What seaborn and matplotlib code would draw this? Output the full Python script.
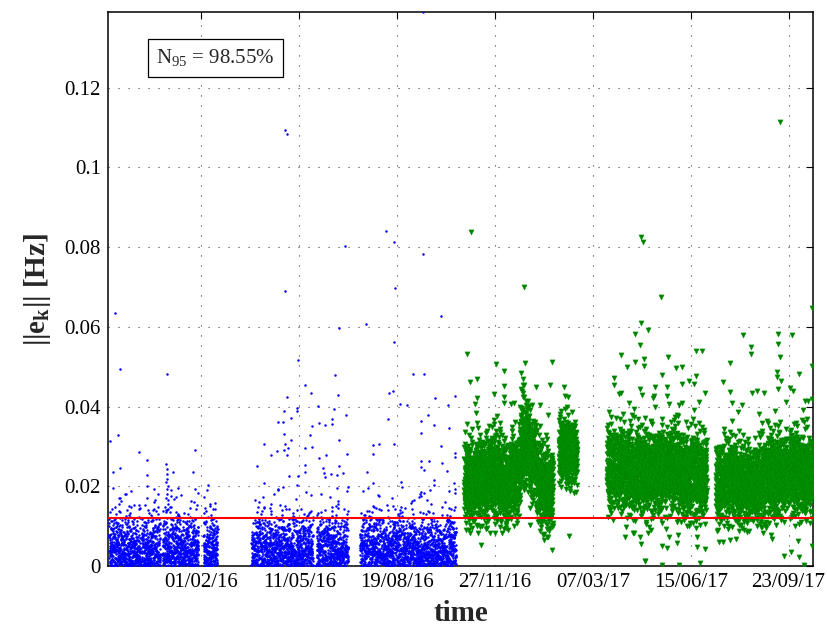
import numpy as np
import pandas as pd
import seaborn as sns
import matplotlib
matplotlib.use("Agg")
import matplotlib.pyplot as plt
import matplotlib.dates as mdates
from matplotlib.ticker import FuncFormatter

# ---------------------------------------------------------------------------
# Data (times are given in days relative to 2016-02-01)
# ---------------------------------------------------------------------------
day0 = pd.Timestamp("2016-02-01")
blue_per_day = 16
green_per_day = 20

# training period (blue): recording blocks
blue_seg_start = [-94.5, -61.5, -40.0, 2.0, 51.0, 117.5, 162.0]
blue_seg_end = [-62.5, -42.0, -3.0, 16.5, 114.0, 150.0, 260.2]
# cumulative share of samples below each error level inside a block
blue_level = [0.0, 0.002, 0.004, 0.006, 0.008, 0.010, 0.012, 0.015, 0.020]
blue_cum = [0.0, 0.23, 0.46, 0.655, 0.80, 0.90, 0.96, 0.988, 1.0]

# test period (green): recording blocks with typical level and spread
green_seg_start = [268.4, 280.0, 295.0, 305.0, 317.0, 325.0, 335.0, 342.0, 350.0,
                   365.3, 414.3, 440.0, 465.0, 490.0, 525.5, 550.0, 575.0, 600.0]
green_seg_end = [280.0, 295.0, 305.0, 317.0, 325.0, 335.0, 342.0, 350.0, 359.2,
                 383.7, 440.0, 465.0, 490.0, 516.3, 550.0, 575.0, 600.0, 624.5]
green_seg_center = [0.0210, 0.0220, 0.0230, 0.0210, 0.0225, 0.0300, 0.0270, 0.0210, 0.0190,
                    0.0285, 0.0245, 0.0235, 0.0240, 0.0225, 0.0210, 0.0205, 0.0225, 0.0230]
green_seg_scale = [1.0, 1.0, 1.05, 1.0, 1.0, 1.1, 1.0, 1.05, 1.0,
                   0.8, 1.0, 1.0, 1.0, 1.0, 0.95, 0.95, 1.0, 1.0]
green_offset = [-0.013, -0.010, -0.0065, -0.0035, 0.0, 0.0035, 0.0065, 0.0095, 0.014, 0.022]
green_cum = [0.0, 0.02, 0.09, 0.27, 0.50, 0.73, 0.895, 0.968, 0.993, 1.0]

# isolated training samples
blue_out_day = [
    -88.8, -83.7, -34.7, -93.2, -85.0, -64.3, -55.8, -90.1, -83.0, -36.4,
    -35.0, -28.9, -6.1, -8.5, -55.8, -35.7, -6.8, 7.1, -55.8, -35.0,
    -78.3, -83.4, -55.8, -48.3, -26.2, -20.4, -10.9, -91.5, -74.5, -69.4,
    -64.3, -54.8, -34.0, -31.3, -24.2, 8.5, 14.3, 11.5, -35.4, -36.0,
    -34.6, -35.7, -36.2, -34.3, -35.2, -36.5,
    85.7, 99.0, 140.5, 105.4, 112.2, 136.0, 139.8, 87.8, 119.1, 98.0,
    84.4, 97.7, 135.0, 147.7, 91.5, 77.9, 83.7, 133.7, 112.6, 119.7,
    125.8, 133.0, 85.0, 87.0, 146.6, 84.0, 64.0, 77.6, 85.0, 88.1,
    84.7, 87.8, 91.8, 70.7, 56.8, 110.9, 106.1, 112.6, 126.8, 119.7,
    140.8, 149.0, 105.4, 123.8, 140.8, 106.1, 125.5, 132.7, 138.1, 144.2,
    126.2, 89.8, 98.7, 63.6, 98.0, 149.7,
    188.8, 196.6, 226.8, 197.7, 244.9, 196.6, 216.6, 227.6, 191.8, 195.9,
    238.8, 259.5, 203.1, 209.9, 251.7, 167.7, 226.8, 191.1, 175.2, 181.6,
    175.2, 168.7, 175.8, 196.6, 224.5, 231.9, 238.1, 252.8, 224.5, 245.2,
    259.5, 259.5, 224.5, 233.0, 245.6, 224.5, 227.2, 251.0, 238.1, 237.4,
    203.8, 258.2, 252.8, 259.5, 224.5, 217.7,
]
blue_out_val = [
    0.0634, 0.0494, 0.0482, 0.0314, 0.0329, 0.0287, 0.0265, 0.0236, 0.0246, 0.0255,
    0.0244, 0.0237, 0.0290, 0.0237, 0.0228, 0.0219, 0.0194, 0.0203, 0.0200, 0.0192,
    0.0181, 0.0170, 0.0171, 0.0160, 0.0173, 0.0178, 0.0163, 0.0144, 0.0151, 0.0152,
    0.0153, 0.0140, 0.0165, 0.0148, 0.0129, 0.0151, 0.0157, 0.0144, 0.0230, 0.0210,
    0.0200, 0.0180, 0.0170, 0.0155, 0.0140, 0.0135,
    0.0689, 0.0516, 0.0596, 0.0455, 0.0434, 0.0479, 0.0430, 0.0424, 0.0402, 0.0397,
    0.0388, 0.0388, 0.0394, 0.0378, 0.0372, 0.0362, 0.0361, 0.0369, 0.0351, 0.0358,
    0.0355, 0.0356, 0.1095, 0.1083, 0.0802, 0.0332, 0.0305, 0.0288, 0.0307, 0.0296,
    0.0290, 0.0278, 0.0316, 0.0278, 0.0250, 0.0328, 0.0296, 0.0298, 0.0279, 0.0272,
    0.0316, 0.0282, 0.0253, 0.0246, 0.0251, 0.0236, 0.0233, 0.0232, 0.0229, 0.0233,
    0.0223, 0.0225, 0.0225, 0.0208, 0.0203, 0.0198,
    0.0841, 0.0812, 0.0783, 0.0697, 0.0627, 0.0561, 0.0481, 0.0481, 0.0434, 0.0439,
    0.0422, 0.0426, 0.0406, 0.0405, 0.0405, 0.0607, 0.1390, 0.0369, 0.0303, 0.0306,
    0.0281, 0.0235, 0.0207, 0.0305, 0.0364, 0.0380, 0.0355, 0.0345, 0.0333, 0.0300,
    0.0283, 0.0273, 0.0264, 0.0264, 0.0258, 0.0248, 0.0241, 0.0239, 0.0215, 0.0203,
    0.0210, 0.0207, 0.0188, 0.0182, 0.0175, 0.0166,
]

# isolated test samples
green_out_day = [
    275.8, 329.6, 449.7, 451.7, 449.3, 456.1, 442.6, 448.7, 271.4, 300.7,
    358.5, 428.6, 452.3, 442.6, 435.0, 452.3, 274.5, 281.9, 308.9, 308.9,
    356.4, 421.7, 371.4, 428.6, 450.7, 308.9, 308.9, 591.5, 470.1, 623.8,
    553.4, 588.8, 603.1, 588.8, 505.4, 511.9, 561.2, 561.2, 591.5, 477.2,
    623.5, 484.7, 491.1, 539.8, 470.4, 610.2, 505.1, 498.7, 588.5, 588.5,
    591.8, 533.4, 490.8, 503.4, 463.6, 602.0, 463.0, 562.2, 568.1, 540.1,
    588.8, 617.0, 623.8, 477.6, 442.1, 491.1, 327.0, 328.5, 330.0, 327.5,
    329.5, 331.5,
    273.2, 281.3, 287.0, 291.5, 294.9, 299.7, 285.7, 282.3, 309.5, 335.7,
    352.8, 358.2, 357.9, 375.8, 433.7, 442.1, 456.1, 453.4, 433.0, 441.1,
    448.7, 449.0, 457.1, 459.9, 471.1, 474.8, 478.3, 487.4, 486.4, 470.4,
    475.5, 453.8, 470.4, 488.1, 498.3, 499.7, 506.1, 506.4, 514.3, 509.9,
    529.3, 533.4, 540.5, 546.6, 549.3, 534.4, 572.1, 581.6, 583.0, 595.6,
    602.3, 610.2, 609.9, 616.3, 623.5, 595.6,
]
green_out_val = [
    0.0838, 0.0699, 0.0825, 0.0814, 0.0610, 0.0593, 0.0581, 0.0554, 0.0532, 0.0507,
    0.0512, 0.0529, 0.0520, 0.0512, 0.0500, 0.0501, 0.0461, 0.0470, 0.0489, 0.0451,
    0.0455, 0.0472, 0.0427, 0.0434, 0.0429, 0.0424, 0.0410, 0.1115, 0.0674, 0.0647,
    0.0579, 0.0583, 0.0579, 0.0556, 0.0540, 0.0539, 0.0550, 0.0531, 0.0525, 0.0525,
    0.0502, 0.0497, 0.0500, 0.0509, 0.0479, 0.0482, 0.0476, 0.0465, 0.0486, 0.0473,
    0.0464, 0.0462, 0.0456, 0.0457, 0.0450, 0.0446, 0.0427, 0.0433, 0.0439, 0.0436,
    0.0444, 0.0414, 0.0420, 0.0406, 0.0395, 0.0409, 0.0483, 0.0470, 0.0455, 0.0440,
    0.0425, 0.0415,
    0.0090, 0.0100, 0.0100, 0.0096, 0.0082, 0.0082, 0.0053, 0.0082, 0.0092, 0.0104,
    0.0072, 0.0040, 0.0104, 0.0075, 0.0097, 0.0084, 0.0082, 0.0012, 0.0073, 0.0082,
    0.0072, 0.0055, 0.0097, 0.0090, 0.0107, 0.0094, 0.0072, 0.0078, 0.0057, 0.0050,
    0.0044, 0.0013, 0.0003, 0.0003, 0.0100, 0.0107, 0.0072, 0.0048, 0.0042, 0.0007,
    0.0061, 0.0061, 0.0065, 0.0068, 0.0088, 0.0100, 0.0099, 0.0078, 0.0067, 0.0026,
    0.0034, 0.0023, 0.0063, 0.0003, 0.0050, 0.0111,
]

threshold = 0.012
n95_label = "N$_{95}$ = 98.55%"
xtick_dates = ["2016-02-01", "2016-05-11", "2016-08-19", "2016-11-27",
               "2017-03-07", "2017-06-15", "2017-09-23"]
yticks = [0.0, 0.02, 0.04, 0.06, 0.08, 0.10, 0.12]
x_limits = ["2015-10-28 12:00", "2017-10-18 00:00"]
y_limits = [0.0, 0.139]


# ---------------------------------------------------------------------------
# Regularly sampled records per block.  Each block takes evenly spaced
# quantiles of its error profile; an integer hash of the sample index sets
# which record in time gets which quantile.
# ---------------------------------------------------------------------------
MASK = np.uint64(0xFFFFFFFF)


def mix32(k):
    h = (k.astype(np.uint64) * np.uint64(2654435761)) & MASK
    h ^= h >> np.uint64(16)
    h = (h * np.uint64(0x45D9F3B)) & MASK
    h ^= h >> np.uint64(16)
    h = (h * np.uint64(0x45D9F3B)) & MASK
    h ^= h >> np.uint64(16)
    return h


def block_samples(start, end, per_day, first_index):
    n = int(round((end - start) * per_day))
    t = start + (np.arange(n) + 0.5) * (end - start) / n
    order = np.argsort(mix32(np.arange(first_index, first_index + n)), kind="stable")
    rank = np.empty(n)
    rank[order] = np.arange(n)
    f = (rank + 0.5) / n
    return t, f, first_index + n


days, vals, kind = [], [], []
idx = 1
for s, e in zip(blue_seg_start, blue_seg_end):
    d, f, idx = block_samples(s, e, blue_per_day, idx)
    days.append(d)
    vals.append(np.interp(f, blue_cum, blue_level))
    kind.append(np.full(d.size, "train"))
for s, e, c, sc in zip(green_seg_start, green_seg_end, green_seg_center, green_seg_scale):
    d, f, idx = block_samples(s, e, green_per_day, idx)
    days.append(d)
    vals.append(c + sc * np.interp(f, green_cum, green_offset))
    kind.append(np.full(d.size, "test"))
days.append(np.array(blue_out_day)); vals.append(np.array(blue_out_val))
kind.append(np.full(len(blue_out_day), "train"))
days.append(np.array(green_out_day)); vals.append(np.array(green_out_val))
kind.append(np.full(len(green_out_day), "test"))

df = pd.DataFrame({
    "time": day0 + pd.to_timedelta(np.concatenate(days), unit="D"),
    "err": np.clip(np.concatenate(vals), 0.0, None),
    "set": np.concatenate(kind),
})

# ---------------------------------------------------------------------------
# Figure
# ---------------------------------------------------------------------------
sns.set_theme(style="white")
plt.rcParams["font.family"] = ["Liberation Serif", "DejaVu Serif"]
plt.rcParams["mathtext.fontset"] = "custom"
plt.rcParams["mathtext.rm"] = "Liberation Serif"
plt.rcParams["mathtext.it"] = "Liberation Serif:italic"
plt.rcParams["mathtext.bf"] = "Liberation Serif:bold"
plt.rcParams["mathtext.default"] = "regular"

fig = plt.figure(figsize=(8.28, 6.27), dpi=100)
ax = fig.add_axes([108 / 828, 1 - 566 / 627, 705 / 828, 554 / 627])

sns.scatterplot(data=df[df["set"] == "train"], x="time", y="err", ax=ax,
                color="#0000ff", marker="o", s=3.2, linewidth=0, legend=False,
                zorder=3)
sns.scatterplot(data=df[df["set"] == "test"], x="time", y="err", ax=ax,
                color="#008000", marker="v", s=14, linewidth=0.3,
                edgecolor="#009900", legend=False, zorder=4)
ax.axhline(threshold, color="#ff0000", linewidth=1.5, zorder=5)

ax.set_xlim(pd.to_datetime(x_limits[0]), pd.to_datetime(x_limits[1]))
ax.set_ylim(*y_limits)
ax.set_xticks(pd.to_datetime(xtick_dates))
ax.xaxis.set_major_formatter(mdates.DateFormatter("%d/%m/%y"))
ax.set_yticks(yticks)
ax.yaxis.set_major_formatter(FuncFormatter(lambda v, p: f"{v:g}"))

ax.grid(True, linestyle=(0, (1, 8)), color="0.25", linewidth=0.8, zorder=0)
ax.set_axisbelow(True)
for sp in ax.spines.values():
    sp.set_color("black")
    sp.set_linewidth(1.1)
ax.tick_params(axis="both", which="major", direction="in", length=5, width=0.8,
               top=True, right=True, labelsize=15, pad=5, colors="black")

ax.set_xlabel("time", fontsize=21, fontweight="bold", labelpad=6)
ax.set_ylabel(r"||e$_\mathbf{k}$|| [Hz]", fontsize=21, fontweight="bold", labelpad=8)

ax.text(0.1525, 0.917, n95_label, transform=ax.transAxes, fontsize=15,
        ha="center", va="center", zorder=6,
        bbox=dict(boxstyle="square,pad=0.42", facecolor="white",
                  edgecolor="black", linewidth=0.9))

fig.savefig("out.png", dpi=100)
